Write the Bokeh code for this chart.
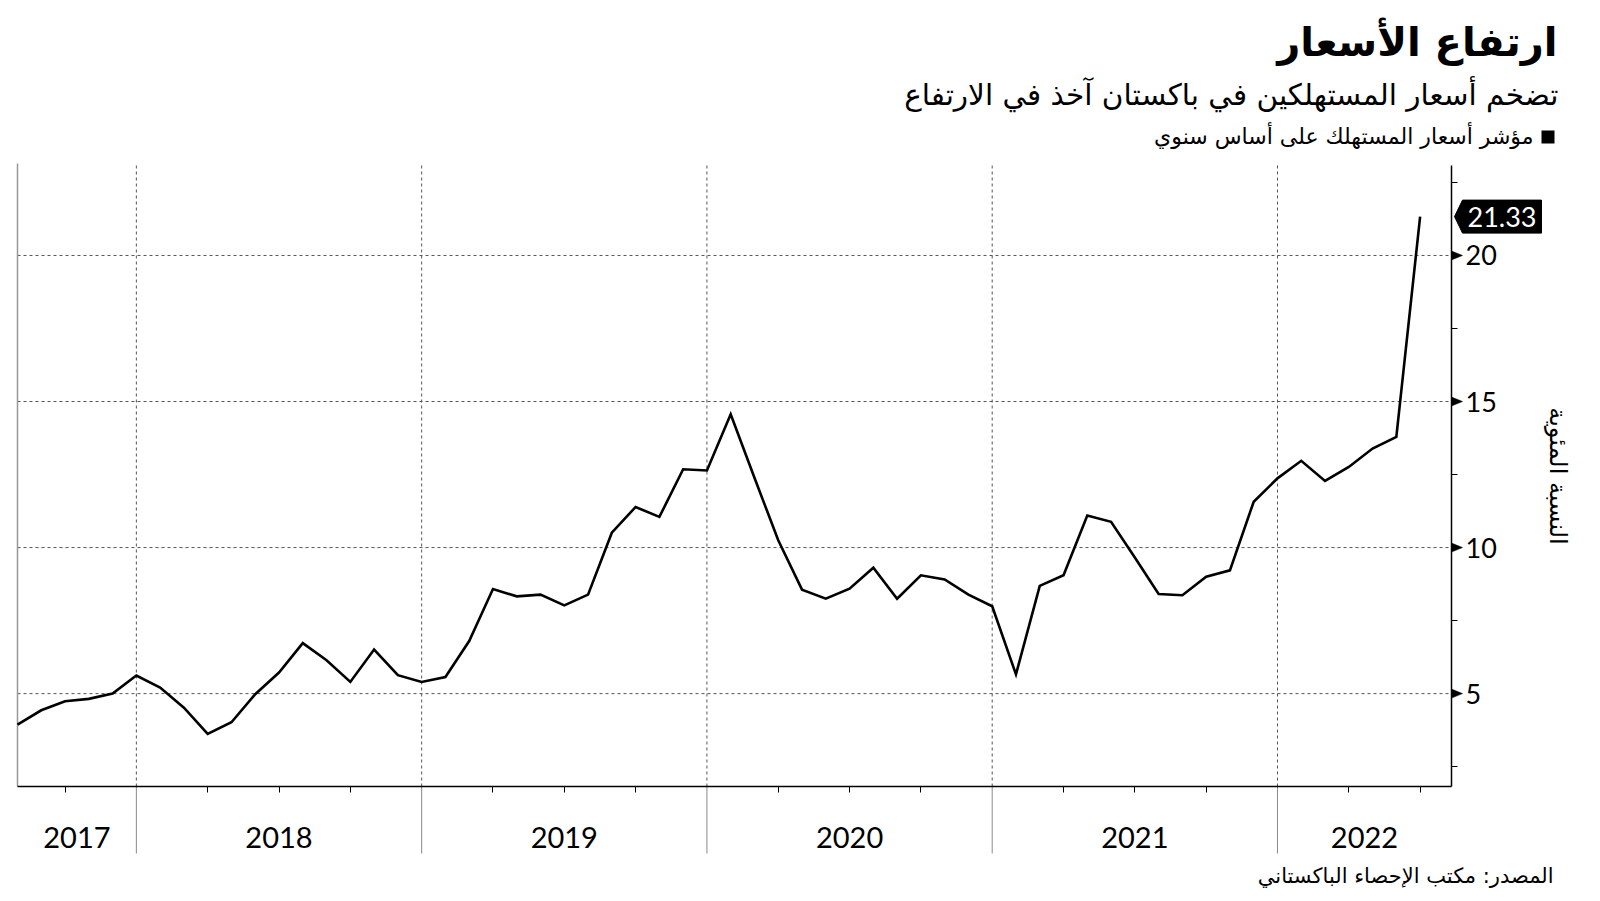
import math
from bokeh.plotting import figure
from bokeh.models import Range1d, FixedTicker, CustomJSTickFormatter
from bokeh.core.properties import value
from bokeh.embed import file_html
from bokeh.resources import INLINE

# ---------------- texts ----------------
title_text = "ارتفاع الأسعار"
subtitle_text = "تضخم أسعار المستهلكين في باكستان آخذ في الارتفاع"
legend_text = "مؤشر أسعار المستهلك على أساس سنوي"
source_text = "المصدر: مكتب الإحصاء الباكستاني"
y_axis_title = "النسبة المئوية"

# ---------------- data ----------------
# month-end observations, index 0 = July 2017 ... 59 = June 2022
month_index = list(range(60))
cpi_yoy = [
    3.94, 4.43, 4.74, 4.82, 5.00, 5.62,                                   # 2017 Jul-Dec
    5.21, 4.52, 3.62, 4.02, 4.98, 5.72, 6.73, 6.14, 5.40, 6.51, 5.63, 5.40,  # 2018
    5.57, 6.80, 8.58, 8.33, 8.39, 8.02, 8.39, 10.51, 11.39, 11.05, 12.68, 12.64,  # 2019
    14.56, 12.39, 10.25, 8.56, 8.25, 8.59, 9.31, 8.25, 9.05, 8.91, 8.39, 7.99,  # 2020
    5.66, 8.69, 9.05, 11.10, 10.88, 9.66, 8.41, 8.37, 9.00, 9.22, 11.57, 12.37,  # 2021
    12.97, 12.28, 12.76, 13.39, 13.79, 21.33,                              # 2022 Jan-Jun
]
year_labels = ["2017", "2018", "2019", "2020", "2021", "2022"]
year_end_index = [5, 17, 29, 41, 53]        # December of 2017..2021
quarter_ticks = [i for i in range(2, 60, 3) if i not in year_end_index]
y_ticks = [5, 10, 15, 20]
y_minor_ticks = [2.5, 7.5, 12.5, 17.5, 22.5]

# ---------------- layout ----------------
W, H = 1600, 901
FL, FR, FT, FB = 17, 1451, 165, 786        # plotting area inside the canvas
x0, x1 = 0.0, 60.32                        # data extent of the plotting area
y0, y1 = 1.82, 23.08
ppx = (FR - FL) / (x1 - x0)
ppy = (FB - FT) / (y1 - y0)
xs_start, xs_end = x0 - FL / ppx, x1 + (W - FR) / ppx
ys_start, ys_end = y0 - (H - FB) / ppy, y1 + FT / ppy


def X(px):
    return xs_start + px / ppx


def Y(py):
    return ys_end - py / ppy


ARABIC = "DejaVu Sans"
NUM = "Lato"

p = figure(width=W, height=H, x_range=Range1d(xs_start, xs_end),
           y_range=Range1d(ys_start, ys_end),
           y_axis_location="right", output_backend="svg", toolbar_location=None,
           min_border_left=0, min_border_right=0, min_border_top=0,
           min_border_bottom=0, outline_line_color=None,
           background_fill_color="white", border_fill_color="white")
p.xgrid.visible = False
p.ygrid.visible = False

# dotted grid lines (limited to the plotting area)
p.segment(x0=[x0] * len(y_ticks), x1=[x1] * len(y_ticks), y0=y_ticks, y1=y_ticks,
          line_color="#555555", line_dash="3 3", line_width=1)
p.segment(x0=year_end_index, x1=year_end_index, y0=[y0] * len(year_end_index),
          y1=[y1] * len(year_end_index), line_color="#555555", line_dash="3 3", line_width=1)
# left border
p.segment(x0=[x0], x1=[x0], y0=[y0], y1=[Y(163)], line_color="#999999", line_width=1.5)
# year separators below the axis
p.segment(x0=year_end_index, x1=year_end_index, y0=[y0] * len(year_end_index),
          y1=[Y(853)] * len(year_end_index), line_color="#8a8a8a", line_width=1)

# x axis
bounds = [x0] + year_end_index + [x1]
year_centers = [(a + b) / 2 for a, b in zip(bounds[:-1], bounds[1:])]
xa = p.xaxis[0]
xa.fixed_location = y0
xa.bounds = (x0, x1)
xa.ticker = FixedTicker(ticks=year_centers, minor_ticks=quarter_ticks)
xa.formatter = CustomJSTickFormatter(args=dict(c=year_centers, l=year_labels), code="""
    for (let i = 0; i < c.length; i++) { if (Math.abs(c[i] - tick) < 1e-6) return l[i]; }
    return "";
""")
xa.axis_line_color = "black"
xa.axis_line_width = 1.5
xa.major_tick_line_color = None
xa.major_tick_out = 0
xa.major_tick_in = 0
xa.minor_tick_line_color = "black"
xa.minor_tick_line_width = 1
xa.minor_tick_out = 6
xa.minor_tick_in = 0
xa.major_label_text_font = NUM
xa.major_label_text_font_size = "29px"
xa.major_label_text_color = "black"
xa.major_label_standoff = 34

# y axis (right)
ya = p.yaxis[0]
ya.fixed_location = x1
ya.bounds = (y0, y1)
ya.ticker = FixedTicker(ticks=y_ticks, minor_ticks=y_minor_ticks)
ya.axis_line_color = "black"
ya.axis_line_width = 1.5
ya.major_tick_line_color = None
ya.major_tick_out = 0
ya.major_tick_in = 0
ya.minor_tick_line_color = "black"
ya.minor_tick_out = 6
ya.minor_tick_in = 0
ya.major_label_text_font = NUM
ya.major_label_text_font_size = "27px"
ya.major_label_text_color = "black"
ya.major_label_standoff = 8
ya.axis_label = y_axis_title
ya.axis_label_text_font = ARABIC
ya.axis_label_text_font_style = "normal"
ya.axis_label_text_font_size = "24px"
ya.axis_label_text_color = "black"
ya.axis_label_standoff = 44

# triangular major ticks on the value axis
tw, th = 11 / ppx, 4.5 / ppy
p.patches(xs=[[x1, x1 + tw, x1] for t in y_ticks],
          ys=[[t + th, t, t - th] for t in y_ticks],
          fill_color="black", line_color="black", line_width=0.5)

# data line
p.line(month_index, cpi_yoy, line_color="black", line_width=2.6, line_join="miter")

# last value callout
last = cpi_yoy[-1]
hh = 16.5 / ppy
p.patch(x=[x1 + 3 / ppx, x1 + 11 / ppx, x1 + 90 / ppx, x1 + 90 / ppx, x1 + 11 / ppx],
        y=[last, last + hh, last + hh, last - hh, last - hh],
        fill_color="black", line_color="black", line_width=1)
p.text(x=[x1 + 50.5 / ppx], y=[last], text=[f"{last:.2f}"], text_align="center",
       text_baseline="middle", text_color="white", text_font=value(NUM),
       text_font_size=value("27px"))

# titles, legend, source
p.text(x=[X(1557)], y=[Y(41)], text=[title_text], text_align="right",
       text_baseline="middle", text_font=value(ARABIC), text_font_style="bold",
       text_font_size=value("40px"), text_color="black")
p.text(x=[X(1558)], y=[Y(94)], text=[subtitle_text], text_align="right",
       text_baseline="middle", text_font=value(ARABIC),
       text_font_size=value("29.5px"), text_color="black")
p.text(x=[X(1533)], y=[Y(136)], text=[legend_text], text_align="right",
       text_baseline="middle", text_font=value(ARABIC),
       text_font_size=value("22px"), text_color="black")
p.quad(left=[X(1541)], right=[X(1554)], top=[Y(130)], bottom=[Y(143)],
       fill_color="black", line_color=None)
p.text(x=[X(1553)], y=[Y(875)], text=[source_text], text_align="right",
       text_baseline="middle", text_font=value(ARABIC),
       text_font_size=value("21px"), text_color="black")

open("out.html", "w").write(file_html(p, INLINE))
